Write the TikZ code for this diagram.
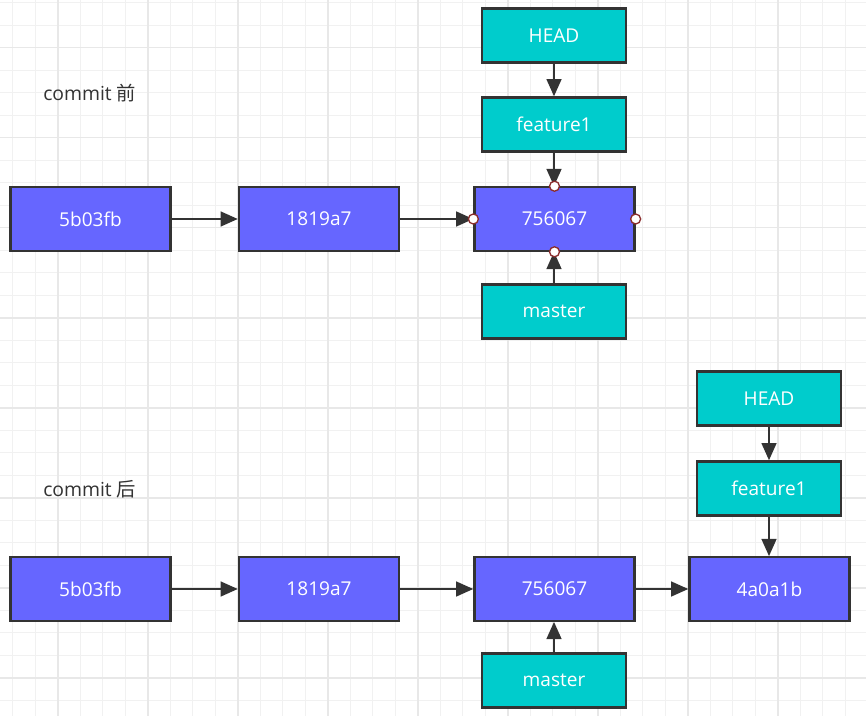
\documentclass[tikz,border=0pt]{standalone}
\usepackage{fontspec}
\setmainfont{Open Sans}
\newfontfamily\cjkfont{Noto Sans CJK SC}
\usetikzlibrary{arrows.meta}
\definecolor{gridminor}{HTML}{F1F1F1}
\definecolor{gridmajor}{HTML}{E8E8E8}
\definecolor{commitfill}{HTML}{6666FF}
\definecolor{reffill}{HTML}{00CCCC}
\definecolor{edge}{HTML}{333333}
\definecolor{portred}{HTML}{8B2E2E}
\begin{document}
\begin{tikzpicture}[x=0.75pt,y=-0.75pt,
  commit/.style={draw=edge, line width=1.7pt, fill=commitfill, text=white,
    minimum width=120pt, minimum height=47.5pt, inner sep=0pt,
    font=\fontsize{14.3}{17}\selectfont},
  ref/.style={draw=edge, line width=1.7pt, fill=reffill, text=white,
    minimum width=107.5pt, minimum height=40.5pt, inner sep=0pt,
    font=\fontsize{14.3}{17}\selectfont},
  link/.style={draw=edge, line width=2pt, -{Triangle[length=13pt,width=11pt]}},
  caption/.style={anchor=west, text=edge, inner sep=0pt,
    font=\fontsize{14.5}{17}\selectfont},
  port/.style={circle, draw=portred, fill=white, line width=1pt,
    minimum size=7.5pt, inner sep=0pt}]
\useasboundingbox (0,0) rectangle (866,716);
\fill[white] (0,0) rectangle (866,716);
% background grid
\foreach \k in {0,...,38} {
  \pgfmathsetmacro\gx{12.7+22.5*\k}
  \draw[gridminor, line width=0.9pt] (\gx,0) -- (\gx,716);
}
\foreach \k in {0,...,31} {
  \pgfmathsetmacro\gy{2.7+22.5*\k}
  \draw[gridminor, line width=0.9pt] (0,\gy) -- (866,\gy);
}
\foreach \k in {0,...,9} {
  \pgfmathsetmacro\gx{57.7+90*\k}
  \draw[gridmajor, line width=1.2pt] (\gx,0) -- (\gx,716);
}
\foreach \k in {0,...,7} {
  \pgfmathsetmacro\gy{47.7+90*\k}
  \draw[gridmajor, line width=1.2pt] (0,\gy) -- (866,\gy);
}

% before the commit
\node[caption] (capA) at (43,93) {commit {\cjkfont 前}};
\node[commit] (a1) at (90.5,219) {5b03fb};
\node[commit] (a2) at (319,219) {1819a7};
\node[commit] (a3) at (554.5,219) {756067};
\node[ref] (aHead) at (554,35.5) {HEAD};
\node[ref] (aFeat) at (554,124.5) {feature1};
\node[ref] (aMaster) at (554,311.5) {master};
\draw[link] (a1) -- (a2);
\draw[link] (a2) -- (a3);
\draw[link] (aHead) -- (aHead |- aFeat.north);
\draw[link] (aFeat) -- (aFeat |- a3.north);
\draw[link] (aMaster) -- (aMaster |- a3.south);
\node[port] at (a3.north) {};
\node[port] at (a3.south) {};
\node[port] at (a3.west) {};
\node[port] at (a3.east) {};

% after the commit
\node[caption] (capB) at (43,489) {commit {\cjkfont 后}};
\node[commit] (b1) at (90.5,589) {5b03fb};
\node[commit] (b2) at (319,589) {1819a7};
\node[commit] (b3) at (554.5,589) {756067};
\node[commit] (b4) at (769.5,589) {4a0a1b};
\node[ref] (bHead) at (769,398.5) {HEAD};
\node[ref] (bFeat) at (769,488.5) {feature1};
\node[ref] (bMaster) at (554,680.5) {master};
\draw[link] (b1) -- (b2);
\draw[link] (b2) -- (b3);
\draw[link] (b3) -- (b4);
\draw[link] (bHead) -- (bHead |- bFeat.north);
\draw[link] (bFeat) -- (bFeat |- b4.north);
\draw[link] (bMaster) -- (bMaster |- b3.south);
\end{tikzpicture}
\end{document}
